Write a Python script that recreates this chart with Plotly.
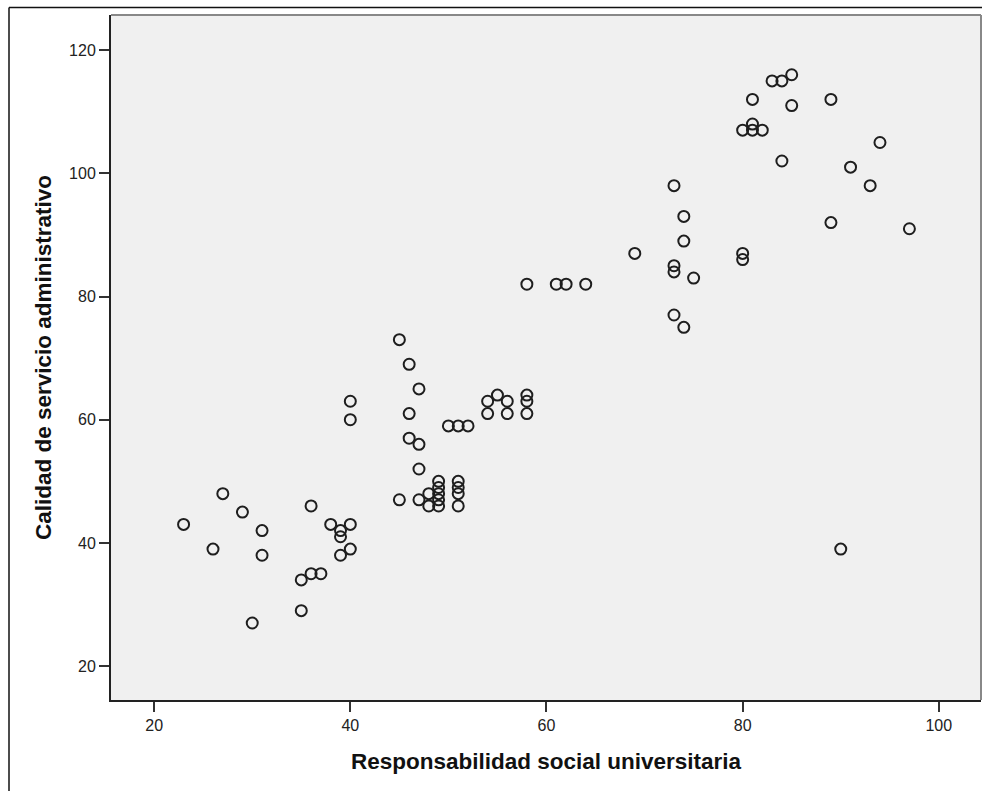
import plotly.graph_objects as go

# Responsabilidad social universitaria (x) vs Calidad de servicio administrativo (y)
rsu = [23, 26, 27, 29, 30, 31, 31, 35, 35, 36, 36, 37, 38, 39, 39, 39, 40, 40, 40, 40,
       45, 45, 46, 46, 46, 47, 47, 47, 47, 48, 48, 49, 49, 49, 49, 49, 50, 51, 52,
       51, 51, 51, 51, 54, 54, 55, 56, 56, 58, 58, 58, 58,
       61, 62, 64, 69, 73, 73, 73, 73, 74, 74, 74, 75, 80, 80, 80, 81, 81, 81, 82,
       83, 84, 84, 85, 85, 89, 89, 90, 91, 93, 94, 97]
csa = [43, 39, 48, 45, 27, 42, 38, 34, 29, 46, 35, 35, 43, 42, 41, 38, 43, 39, 63, 60,
       73, 47, 69, 61, 57, 65, 56, 52, 47, 48, 46, 50, 49, 48, 47, 46, 59, 59, 59,
       50, 49, 48, 46, 63, 61, 64, 63, 61, 64, 63, 61, 82,
       82, 82, 82, 87, 98, 85, 84, 77, 93, 89, 75, 83, 87, 86, 107, 107, 108, 112, 107,
       115, 115, 102, 116, 111, 112, 92, 39, 101, 98, 105, 91]

x_ticks = [20, 40, 60, 80, 100]
y_ticks = [20, 40, 60, 80, 100, 120]

fig = go.Figure()
fig.add_trace(go.Scatter(
    x=rsu, y=csa, mode="markers",
    marker=dict(symbol="circle-open", size=11, color="#1e1e1e",
                line=dict(width=2, color="#1e1e1e")),
    showlegend=False,
))

font_fam = "Liberation Sans, Arial, sans-serif"

PW, PH = 870, 685

fig.update_layout(
    width=982, height=791,
    margin=dict(l=111, r=1, t=15, b=91),
    paper_bgcolor="white",
    plot_bgcolor="#f0f0f0",
    font=dict(family=font_fam, size=16, color="#222"),
    xaxis=dict(
        range=[15.6, 104.3], tickvals=x_ticks, ticks="outside", ticklen=10,
        tickwidth=2, tickcolor="#333", showgrid=False, zeroline=False,
        showline=True, linecolor="#222", linewidth=2,
        tickfont=dict(family=font_fam, size=16, color="#222"),
        title=dict(text="<b>Responsabilidad social universitaria</b>",
                   font=dict(family=font_fam, size=22.5, color="#111"), standoff=20),
    ),
    yaxis=dict(
        range=[14.5, 125.7], tickvals=y_ticks, ticks="outside", ticklen=10,
        tickwidth=2, tickcolor="#333", showgrid=False, zeroline=False,
        showline=True, linecolor="#222", linewidth=2,
        tickfont=dict(family=font_fam, size=16, color="#222"),
        title=dict(text="<b>Calidad de servicio administrativo</b>",
                   font=dict(family=font_fam, size=22.5, color="#111"), standoff=11),
    ),
    shapes=[
        # grey top and right frame of plot area
        dict(type="line", xref="paper", yref="paper", x0=0, x1=1, y0=1, y1=1,
             line=dict(color="#888", width=2)),
        dict(type="line", xref="paper", yref="paper", x0=1, x1=1, y0=0, y1=1,
             line=dict(color="#888", width=2)),
        # outer chart frame
        dict(type="line", xref="paper", yref="paper",
             x0=-102 / PW, x1=1.02, y0=1 + 7.5 / PH, y1=1 + 7.5 / PH,
             line=dict(color="#111", width=1.5)),
        dict(type="line", xref="paper", yref="paper",
             x0=-102 / PW, x1=-102 / PW, y0=-0.2, y1=1 + 7.5 / PH,
             line=dict(color="#111", width=1.5)),
    ],
)

fig.write_html(
    "out.html",
    config={"displayModeBar": False},
    post_script="document.body.style.margin='0';document.body.style.overflow='hidden';",
)
